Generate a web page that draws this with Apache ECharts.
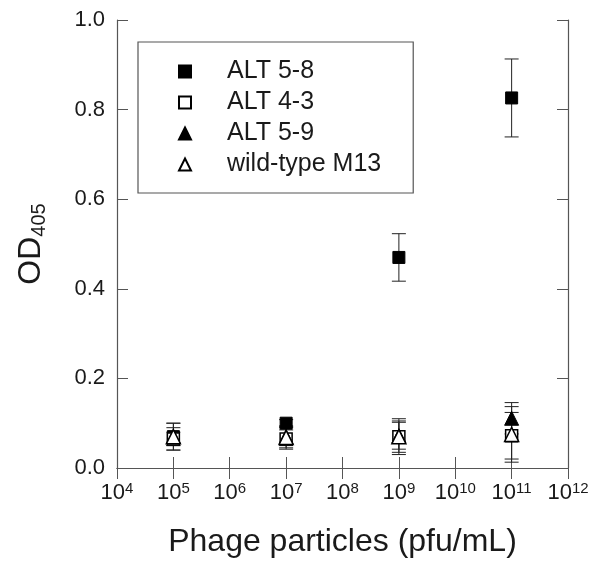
<!DOCTYPE html>
<html>
<head>
<meta charset="utf-8">
<script src="https://cdn.jsdelivr.net/npm/echarts@6/dist/echarts.min.js"></script>
<style>
  html, body { margin: 0; padding: 0; background: #fff; }
  #chart { width: 595px; height: 563px; }
</style>
</head>
<body>
<div id="chart"></div>
<script>
// phage concentrations (pfu/mL)
var doses = [1e5, 1e7, 1e9, 1e11];

// mean OD405 and +/- error
var alt58 = [0.070, 0.100, 0.470, 0.826];
var alt58Err = [0.020, 0.008, 0.053, 0.087];
var alt43 = [0.065, 0.065, 0.070, 0.072];
var alt43Err = [0.015, 0.020, 0.035, 0.052];
var alt59 = [0.070, 0.070, 0.072, 0.111];
var alt59Err = [0.030, 0.020, 0.030, 0.035];
var wildM13 = [0.070, 0.068, 0.070, 0.075];
var wildM13Err = [0.030, 0.026, 0.040, 0.062];

var yTicks = [0, 0.2, 0.4, 0.6, 0.8, 1.0];

var FONT = 'Liberation Sans';
var ink = '#000';
var txt = '#1a1a1a';
var axisCol = '#555';

function pts(vals) {
  return doses.map(function (d, i) { return [d, vals[i]]; });
}
function bars(vals, errs) {
  return doses.map(function (d, i) { return [d, vals[i] - errs[i], vals[i] + errs[i]]; });
}

function errRender(params, api) {
  var x = api.value(0);
  var lo = api.coord([x, api.value(1)]);
  var hi = api.coord([x, api.value(2)]);
  var w = 7;
  var st = { stroke: '#222', lineWidth: 1 };
  return {
    type: 'group',
    children: [
      { type: 'line', shape: { x1: lo[0], y1: lo[1], x2: hi[0], y2: hi[1] }, style: st },
      { type: 'line', shape: { x1: lo[0] - w, y1: lo[1], x2: lo[0] + w, y2: lo[1] }, style: st },
      { type: 'line', shape: { x1: hi[0] - w, y1: hi[1], x2: hi[0] + w, y2: hi[1] }, style: st }
    ]
  };
}

function errSeries(vals, errs) {
  return {
    type: 'custom',
    renderItem: errRender,
    data: bars(vals, errs),
    silent: true,
    z: 1
  };
}

var chart = echarts.init(document.getElementById('chart'), null, { renderer: 'canvas' });

var xBase = {
  type: 'log',
  logBase: 10,
  min: 1e4,
  max: 1e12,
  interval: 1,
  splitNumber: 8,
  axisLine: { show: true, lineStyle: { color: axisCol, width: 1.2 } },
  axisTick: { show: true, inside: true, length: 11, lineStyle: { color: axisCol } },
  splitLine: { show: false },
  minorTick: { show: false }
};
var yBase = {
  type: 'value',
  min: 0,
  max: 1,
  interval: 0.2,
  axisLine: { show: true, lineStyle: { color: axisCol, width: 1.2 } },
  axisTick: { show: true, inside: true, length: 11, lineStyle: { color: axisCol } },
  splitLine: { show: false }
};

var option = {
  backgroundColor: '#fff',
  animation: false,
  textStyle: { fontFamily: FONT, color: txt },
  grid: { left: 117, right: 27, top: 20, bottom: 94 },
  legend: {
    orient: 'vertical',
    left: 138,
    top: 42,
    padding: [17, 32, 16, 40],
    itemGap: 6,
    itemWidth: 12,
    itemHeight: 12,
    borderColor: axisCol,
    borderWidth: 1.2,
    textStyle: { fontFamily: FONT, fontSize: 25, lineHeight: 25, color: txt, padding: [0, 0, 0, 31] },
    data: ['ALT 5-8', 'ALT 4-3', 'ALT 5-9', 'wild-type M13']
  },
  xAxis: [
    Object.assign({}, xBase, {
      position: 'bottom',
      name: 'Phage particles (pfu/mL)',
      nameLocation: 'middle',
      nameGap: 58,
      nameTextStyle: { fontFamily: FONT, fontSize: 32, color: txt },
      axisLabel: {
        margin: 13,
        color: txt,
        fontFamily: FONT,
        formatter: function (v) {
          return '10{sup|' + Math.round(Math.log10(v)) + '}';
        },
        rich: {
          sup: { fontSize: 15, fontFamily: FONT, color: txt, verticalAlign: 'top', padding: [0, 0, 8, 0] }
        },
        fontSize: 22
      }
    }),
    Object.assign({}, xBase, { position: 'top', axisLabel: { show: false } })
  ],
  yAxis: [
    Object.assign({}, yBase, {
      position: 'left',
      name: 'OD{sub|405}',
      nameLocation: 'middle',
      nameGap: 68,
      nameRotate: 90,
      nameTextStyle: {
        fontFamily: FONT,
        fontSize: 32,
        color: txt,
        rich: {
          sub: { fontSize: 20, fontFamily: FONT, color: txt, padding: [16, 0, 0, 0] }
        }
      },
      axisLabel: {
        margin: 12,
        fontSize: 22,
        color: txt,
        fontFamily: FONT,
        customValues: yTicks,
        formatter: function (v) { return v.toFixed(1); }
      }
    }),
    Object.assign({}, yBase, { position: 'right', axisLabel: { show: false } })
  ],
  series: [
    errSeries(wildM13, wildM13Err),
    errSeries(alt59, alt59Err),
    errSeries(alt43, alt43Err),
    errSeries(alt58, alt58Err),
    {
      name: 'ALT 5-8', type: 'scatter', data: pts(alt58),
      symbol: 'rect', symbolSize: 12, z: 2,
      itemStyle: { color: ink, borderColor: ink, borderWidth: 1, opacity: 1 }
    },
    {
      name: 'ALT 4-3', type: 'scatter', data: pts(alt43),
      symbol: 'rect', symbolSize: 12, z: 3,
      itemStyle: { color: '#fff', borderColor: ink, borderWidth: 1.5, opacity: 1 }
    },
    {
      name: 'ALT 5-9', type: 'scatter', data: pts(alt59),
      symbol: 'triangle', symbolSize: 14, z: 4,
      itemStyle: { color: ink, borderColor: ink, borderWidth: 1, opacity: 1 }
    },
    {
      name: 'wild-type M13', type: 'scatter', data: pts(wildM13),
      symbol: 'triangle', symbolSize: 14, z: 5,
      itemStyle: { color: '#fff', borderColor: ink, borderWidth: 1.5, opacity: 1 }
    }
  ]
};

chart.setOption(option);
</script>
</body>
</html>
